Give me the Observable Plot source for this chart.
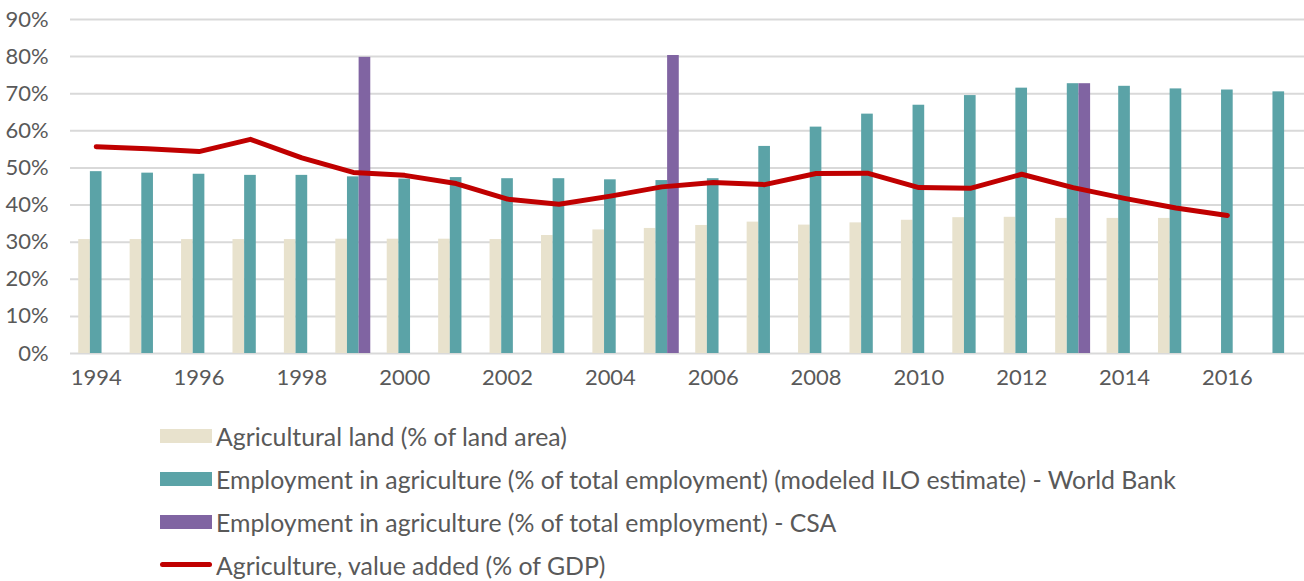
<!DOCTYPE html>
<html><head><meta charset="utf-8">
<script src="https://cdn.jsdelivr.net/npm/d3@7"></script>
<script src="https://cdn.jsdelivr.net/npm/@observablehq/plot@0.6"></script>
<style>
body{margin:0;background:#fff;font-family:Lato,sans-serif;color:#595959}
#legend{margin-left:160px;margin-top:14px}
.row{display:flex;align-items:center;height:43px;white-space:nowrap}
.sw{width:52px;margin-right:4px;flex:none}
</style></head><body><div id="chart"></div><div id="legend"></div>
<script>
const years = [1994,1995,1996,1997,1998,1999,2000,2001,2002,2003,2004,2005,2006,2007,2008,2009,2010,2011,2012,2013,2014,2015,2016,2017];
const agriLand = [30.7,30.7,30.7,30.7,30.7,30.8,30.8,30.8,30.7,31.8,33.3,33.7,34.5,35.4,34.6,35.2,35.9,36.6,36.7,36.4,36.4,36.4,null,null];
const empWorldBank = [49.0,48.6,48.3,48.0,48.0,47.6,47.0,47.4,47.1,47.1,46.8,46.6,47.1,55.8,61.0,64.5,66.9,69.5,71.5,72.7,72.0,71.3,71.0,70.5];
const empCSA = [null,null,null,null,null,79.8,null,null,null,null,null,80.3,null,null,null,null,null,null,null,72.7,null,null,null,null];
const valueAdded = [55.7,55.2,54.4,57.7,52.7,48.8,48.0,45.8,41.6,40.2,42.4,44.9,46.1,45.5,48.5,48.6,44.7,44.5,48.3,44.7,41.8,39.2,37.2,null];
const yTicks = [0,10,20,30,40,50,60,70,80,90];
const seriesNames = ["Agricultural land (% of land area)","Employment in agriculture (% of total employment) (modeled ILO estimate) - World Bank","Employment in agriculture (% of total employment) - CSA","Agriculture, value added (% of GDP)"];
const colors = ["#E8E2CD","#5BA3A7","#8064A2","#C00000"];

const FAMILY = "Lato";
function fit(text, target){
  const c = document.createElement("canvas").getContext("2d");
  c.font = `100px ${FAMILY}`;
  return 100*target/c.measureText(text).width;
}
const axisFont = fit("1994", 51);
const legendFont = fit(seriesNames[1], 961);

const W = 1304, H = 400, ML = 70, MR = 0, MT = 19, MB = 47;
const step = (W-ML-MR)/years.length;
const bw = step*0.68, third = bw/3;

const rows = years.map((y,i)=>({year:y, land:agriLand[i], wb:empWorldBank[i], csa:empCSA[i], va:valueAdded[i]}));

const chart = Plot.plot({
  width: W, height: H, marginLeft: ML, marginRight: MR, marginTop: MT, marginBottom: MB,
  style: {fontFamily: FAMILY, fontSize: axisFont+"px", color:"#595959", background:"#fff"},
  x: {type:"band", domain: years, paddingInner: 0.32, paddingOuter: 0.16, round: false, label: null},
  y: {domain:[0,90], label:null},
  marks: [
    Plot.gridY(yTicks, {stroke:"#D9D9D9", strokeWidth:2, strokeOpacity:1}),
    Plot.barY(rows.filter(d=>d.land!=null), {x:"year", y:"land", fill:colors[0], insetRight: 2*third}),
    Plot.barY(rows, {x:"year", y:"wb", fill:colors[1], insetLeft: third, insetRight: third}),
    Plot.barY(rows.filter(d=>d.csa!=null), {x:"year", y:"csa", fill:colors[2], insetLeft: 2*third}),
    Plot.lineY(rows.filter(d=>d.va!=null), {x:"year", y:"va", stroke:colors[3], strokeWidth:5, strokeLinejoin:"round", strokeLinecap:"round"}),
    Plot.axisY(yTicks, {tickSize:0, tickPadding:22, tickFormat:d=>d+"%", fill:"#595959"}),
    Plot.axisX(years.filter(y=>y%2===0), {tickSize:0, tickPadding:16, fill:"#595959", label:null, tickFormat:d=>String(d)})
  ]
});
document.getElementById("chart").appendChild(chart);

const legend = document.getElementById("legend");
legend.style.fontSize = legendFont+"px";
seriesNames.forEach((name,i)=>{
  const row = document.createElement("div"); row.className="row";
  const sw = document.createElement("div"); sw.className="sw";
  if(i<3){ sw.style.height="14px"; sw.style.background=colors[i]; }
  else { sw.style.height="5px"; sw.style.background=colors[i]; sw.style.borderRadius="3px"; }
  const t = document.createElement("span"); t.textContent = name;
  row.appendChild(sw); row.appendChild(t); legend.appendChild(row);
});
</script></body></html>
